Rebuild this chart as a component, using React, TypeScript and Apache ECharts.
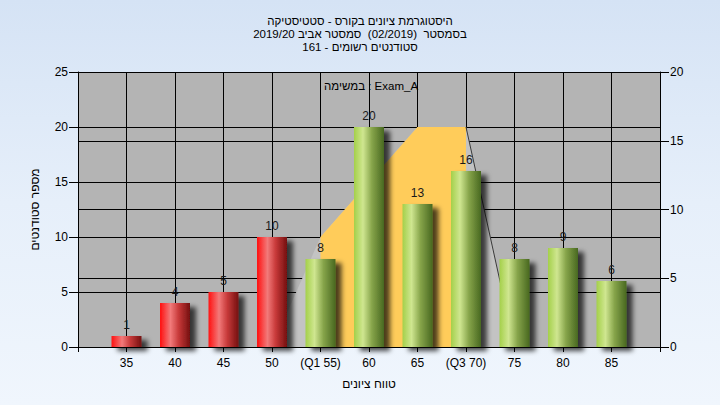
import React, { useEffect, useRef } from "react";
import * as echarts from "echarts";

const titleLines = [
  "היסטוגרמת ציונים בקורס - סטטיסטיקה",
  "בסמסטר  (02/2019)  סמסטר אביב 2019/20",
  "סטודנטים רשומים - 161",
];
const legendText = "במשימה : Exam_A";
const xAxisName = "טווח ציונים";
const yAxisName = "מספר סטודנטים";

const grades = [35, 40, 45, 50, 55, 60, 65, 70, 75, 80, 85];
const gradeLabels = ["35", "40", "45", "50", "(Q1 55)", "60", "65", "(Q3 70)", "75", "80", "85"];
const counts = [1, 4, 5, 10, 8, 20, 13, 16, 8, 9, 6];
const failingGrades = [35, 40, 45, 50];

const distGrades = [50, 55, 65, 70, 75];
const distValues = [0, 10, 20, 20, 0];
const iqrGrades = [55, 65, 70];
const iqrValues = [10, 20, 20];
const tailGrades = [70, 75];
const tailValues = [20, 0];

const xMin = 30;
const xMax = 90;
const leftMax = 25;
const rightMax = 20;

const FONT = "'Liberation Sans', 'DejaVu Sans', Arial, sans-serif";

const redGrad = new echarts.graphic.LinearGradient(0, 0, 1, 0, [
  { offset: 0, color: "#ff1010" },
  { offset: 0.35, color: "#f27a7a" },
  { offset: 0.62, color: "#c83a3a" },
  { offset: 1, color: "#741010" },
]);
const greenGrad = new echarts.graphic.LinearGradient(0, 0, 1, 0, [
  { offset: 0, color: "#a4d04a" },
  { offset: 0.3, color: "#cfe690" },
  { offset: 0.6, color: "#86a44a" },
  { offset: 1, color: "#486820" },
]);

export default function App() {
  const ref = useRef<HTMLDivElement>(null);
  useEffect(() => {
    if (!ref.current) return;
    const chart = echarts.init(ref.current, null, { renderer: "svg" });
    const axisText = { color: "#000", fontSize: 12, fontFamily: FONT };
    chart.setOption({
      animation: false,
      title: {
        text: titleLines.join("\n"),
        left: "center",
        top: 9,
        textStyle: { fontSize: 11.5, fontWeight: "normal", lineHeight: 13, color: "#000", fontFamily: FONT },
      },
      graphic: [
        {
          type: "text",
          left: 324,
          top: 80,
          style: { text: legendText, fill: "#000", fontSize: 11.5, fontFamily: FONT },
          z: 100,
        },
      ],
      grid: { left: 78, right: 60, top: 72, bottom: 58, show: true, backgroundColor: "#b4b4b4", borderWidth: 0 },
      xAxis: {
        type: "value",
        min: xMin,
        max: xMax,
        interval: 5,
        name: xAxisName,
        nameLocation: "middle",
        nameGap: 31,
        nameTextStyle: axisText,
        axisLine: { show: true, onZero: false, lineStyle: { color: "#000", width: 1 } },
        axisTick: { show: true, length: 5, lineStyle: { color: "#000" } },
        axisLabel: {
          ...axisText,
          margin: 10,
          formatter: (v: number) => {
            const i = grades.indexOf(v);
            return i >= 0 ? gradeLabels[i] : "";
          },
        },
        splitLine: { show: true, lineStyle: { color: "#000", width: 1 } },
      },
      yAxis: [
        {
          type: "value",
          min: 0,
          max: leftMax,
          interval: 5,
          position: "left",
          name: yAxisName,
          nameLocation: "middle",
          nameGap: 37,
          nameTextStyle: axisText,
          axisLine: { show: true, lineStyle: { color: "#000", width: 1 } },
          axisTick: { show: true, length: 9, lineStyle: { color: "#000" } },
          axisLabel: { ...axisText, margin: 10 },
          splitLine: { show: true, lineStyle: { color: "#000", width: 1 } },
        },
        {
          type: "value",
          min: 0,
          max: rightMax,
          interval: 5,
          position: "right",
          axisLine: { show: true, lineStyle: { color: "#000", width: 1 } },
          axisTick: { show: true, length: 9, lineStyle: { color: "#000" } },
          axisLabel: { ...axisText, margin: 10 },
          splitLine: { show: true, lineStyle: { color: "#000", width: 1 } },
        },
      ],
      series: [
        {
          type: "line",
          yAxisIndex: 0,
          data: distGrades.map((g, i) => [g, distValues[i]]),
          symbol: "none",
          lineStyle: { width: 0, opacity: 0 },
          areaStyle: { color: "#c3c3c3", opacity: 1 },
          z: 1,
        },
        {
          type: "line",
          yAxisIndex: 0,
          data: iqrGrades.map((g, i) => [g, iqrValues[i]]),
          symbol: "none",
          lineStyle: { width: 0, opacity: 0 },
          areaStyle: { color: "#ffcc5a", opacity: 1 },
          z: 2,
        },
        {
          type: "line",
          yAxisIndex: 0,
          data: tailGrades.map((g, i) => [g, tailValues[i]]),
          symbol: "none",
          lineStyle: { width: 1, color: "#3a3a3a" },
          z: 3,
        },
        {
          type: "bar",
          yAxisIndex: 0,
          barWidth: 30,
          z: 5,
          data: grades.map((g, i) => ({
            value: [g, counts[i]],
            itemStyle: {
              color: failingGrades.includes(g) ? redGrad : greenGrad,
              shadowColor: "rgba(0,0,0,0.7)",
              shadowBlur: 5,
              shadowOffsetX: 6,
              shadowOffsetY: 4,
            },
          })),
          label: {
            show: true,
            position: "top",
            distance: 5,
            color: "#1a1a1a",
            fontSize: 12,
            fontFamily: FONT,
            formatter: (p: any) => String(p.value[1]),
          },
        },
      ],
    });
    return () => chart.dispose();
  }, []);
  return (
    <div
      ref={ref}
      style={{
        position: "fixed",
        left: 0,
        top: 0,
        width: 720,
        height: 405,
        background: "linear-gradient(to bottom, #d5e3f5 0%, #e6effa 50%, #f0f6fd 100%)",
      }}
    />
  );
}
